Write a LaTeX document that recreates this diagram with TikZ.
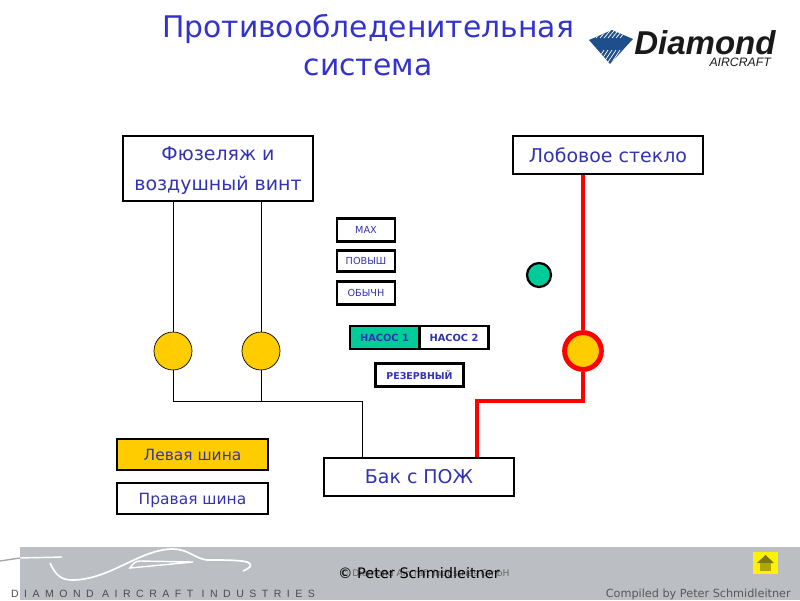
\documentclass[tikz,border=0pt]{standalone}
\usepackage{fontspec}
\setmainfont{DejaVu Sans}
\newfontfamily\bandfont[LetterSpace=52]{Liberation Sans}
\newfontfamily\logofont{Liberation Sans}
\usetikzlibrary{positioning, calc}
\definecolor{textblue}{HTML}{3333B2}
\definecolor{titleblue}{HTML}{3333CC}
\definecolor{busgold}{HTML}{FFCC00}
\definecolor{pumpgreen}{HTML}{00CC99}
\definecolor{bandgray}{HTML}{BBBEC2}
\definecolor{logoblue}{HTML}{1F4E8C}
\tikzset{
    titletext/.style={text=titleblue, font=\fontsize{21.2}{27}\selectfont, align=center},
    bigbox/.style={draw=black, line width=2.1pt, fill=white, text=textblue, inner sep=0pt, align=center, font=\fontsize{13.5}{21}\selectfont},
    modebox/.style={draw=black, line width=2.1pt, fill=white, text=textblue, inner sep=0pt, minimum width=14.5mm, font=\fontsize{6.9}{8}\selectfont},
    pumpbox/.style={draw=black, line width=2.1pt, fill=white, text=textblue, inner sep=0pt, minimum height=5.75mm, font=\fontsize{7}{8}\bfseries\selectfont},
    busbox/.style={draw=black, line width=1.5pt, inner sep=0pt, text=textblue, minimum width=37.75mm, text depth=0pt, font=\fontsize{11}{13}\selectfont},
    thinpipe/.style={draw=black, line width=0.5pt},
    redpipe/.style={draw=red, line width=3.5pt},
    pumpdot/.style={circle, draw=black, line width=0.5pt, fill=busgold, inner sep=0pt, minimum size=9.5mm}
}
\begin{document}
\begin{tikzpicture}[x=0.25mm, y=-0.25mm]
    \useasboundingbox (0,0) rectangle (800,600);

    % Footer band
    \fill[bandgray] (20,547) rectangle (800,600);
    \draw[gray!70, line width=1pt] (0,561) -- (20,558);
    \draw[white, line width=1pt] (20,558) -- (62,557);
    \draw[white, line width=1.2pt] (50,563) .. controls (56,576) and (62,580) .. (72,580)
        .. controls (110,580) and (140,549) .. (173,549)
        .. controls (188,549) and (196,559) .. (207,560)
        .. controls (225,560) and (240,560) .. (247,562)
        .. controls (254,565) and (250,568) .. (243,571);
    \draw[white, line width=1pt] (130,568) .. controls (133,563) and (136,561) .. (140,561) -- (193,562) -- cycle;
    \node[text=black!70] (bandtext) at (163,594) {\bandfont\fontsize{7.5}{9}\selectfont DIAMOND AIRCRAFT INDUSTRIES};
    \node[text=black!60, font=\fontsize{6.5}{8}\selectfont] (copyback) at (425,573) {© Diamond Aircraft Industries GmbH};
    \node[text=black, font=\fontsize{10.3}{12}\selectfont] (copyfront) at (419,573) {© Peter Schmidleitner};
    \node[text=black!65, font=\fontsize{8}{9}\selectfont, anchor=east, inner sep=0pt] (compiled) at (791,594) {Compiled by Peter Schmidleitner};

    % Home button
    \fill[yellow] (753,552) rectangle (778,574);
    \fill[olive!85!black] (765.5,555) -- (774,563) -- (757,563) -- cycle;
    \fill[olive!70!yellow] (760,563) rectangle (771,571);

    % Title
    \node[titletext] (title) at (368,45) {Противообледенительная\\система};

    % Logo
    \begin{scope}
        \clip (589,40) -- (612,30) -- (633,39) -- (610,64) -- cycle;
        \fill[logoblue] (585,25) rectangle (640,70);
        \foreach \s in {0,4,...,24} {
            \draw[white, line width=0.5pt] (596+\s,38) -- (606+\s,26);
            \draw[white, line width=0.5pt] (592+\s,68) -- (604+\s,50);
        }
    \end{scope}
    \node[font=\logofont\fontsize{23.5}{26}\bfseries\itshape\selectfont, text=black!90, anchor=base west, inner sep=0pt] (logoname) at (634,54) {Diamond};
    \node[font=\logofont\fontsize{8.7}{10}\itshape\selectfont, text=black!90, anchor=base east, inner sep=0pt] (logosub) at (771,66.5) {AIRCRAFT};

    % Boxes
    \node[bigbox, text depth=0pt, minimum width=47.5mm, minimum height=16.25mm] (fuselage) at (218,168.5) {Фюзеляж и\\воздушный винт};
    \node[bigbox, minimum width=47.5mm, minimum height=9.5mm] (windshield) at (608,155) {Лобовое стекло};
    \node[bigbox, minimum width=47.5mm, minimum height=9.5mm] (tank) at (419,477) {Бак с ПОЖ};
    \node[busbox, fill=busgold, minimum height=7.75mm] (leftbus) at (192.5,454.5) {Левая шина};
    \node[busbox, fill=white, minimum height=7.75mm] (rightbus) at (192.5,498.5) {Правая шина};

    % Mode buttons
    \node[modebox, minimum height=5.75mm] (maxmode) at (366,230) {MAX};
    \node[modebox, minimum height=5.25mm] (highmode) at (366,261) {ПОВЫШ};
    \node[modebox, minimum height=5.75mm] (normmode) at (366,293) {ОБЫЧН};
    \node[pumpbox, fill=pumpgreen, minimum width=17.25mm] (pumpone) at (384.5,337.5) {НАСОС 1};
    \node[pumpbox, minimum width=17.25mm] (pumptwo) at (454,337.5) {НАСОС 2};
    \node[pumpbox, minimum width=22mm, font=\fontsize{6.7}{8}\bfseries\selectfont] (reserve) at (419.5,375) {РЕЗЕРВНЫЙ};
    \node[circle, draw=black, line width=1.6pt, fill=pumpgreen, inner sep=0pt, minimum size=6mm] (indicator) at (539,275) {};

    % Pumps
    \node[pumpdot] (leftpump) at (173,351) {};
    \node[pumpdot] (midpump) at (261,351) {};
    \node[circle, draw=red, line width=3.5pt, fill=busgold, inner sep=0pt, minimum size=9.2mm] (redpump) at (583,351) {};

    % Thin pipes
    \coordinate (leftjoin) at (leftpump |- 0,401);
    \coordinate (midjoin) at (midpump |- 0,401);
    \coordinate (tankjoin) at (362,401);
    \draw[thinpipe] (leftpump |- fuselage.south) -- (leftpump);
    \draw[thinpipe] (midpump |- fuselage.south) -- (midpump);
    \draw[thinpipe] (leftpump) -- (leftjoin) -- (tankjoin) -- (tankjoin |- tank.north);
    \draw[thinpipe] (midpump) -- (midjoin);

    % Red pipes
    \coordinate (redjoin) at (redpump |- 0,401);
    \coordinate (tankred) at (477,401);
    \draw[redpipe] (redpump |- windshield.south) -- (redpump);
    \draw[redpipe, line join=miter] (redpump) -- (redjoin) -- (tankred) -- (tankred |- tank.north);
\end{tikzpicture}
\end{document}
